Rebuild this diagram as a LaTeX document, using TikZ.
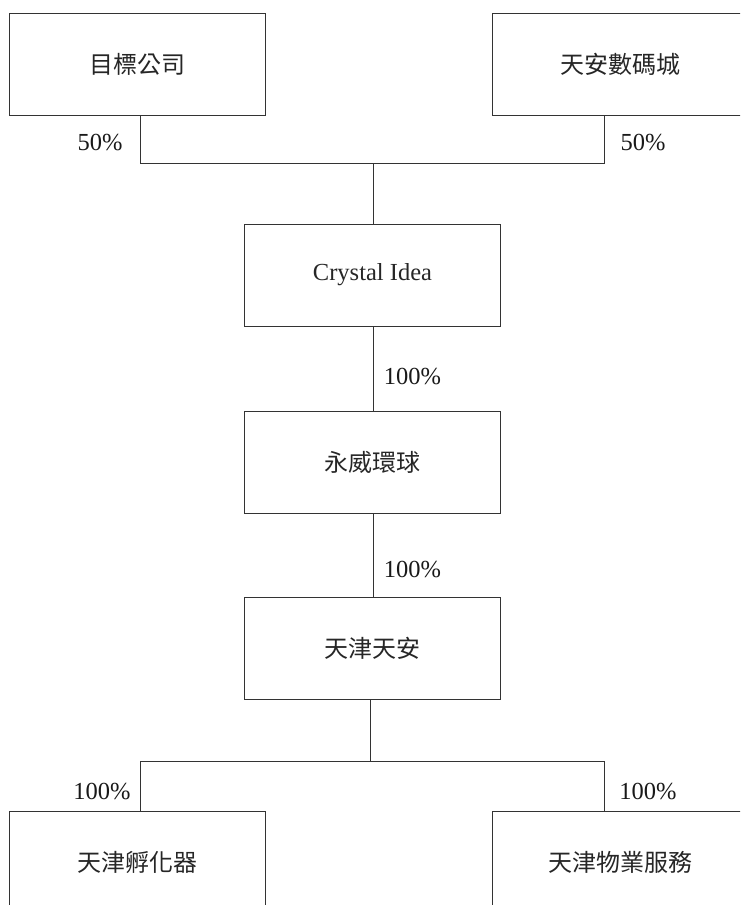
\documentclass[tikz,border=0pt]{standalone}
\usepackage{fontspec}
\setmainfont{Liberation Serif}
\newfontfamily\cjk{Noto Sans CJK TC}
\begin{document}
\begin{tikzpicture}[x=1pt,y=-1pt,
  box/.style={draw=black!80,line width=0.9pt,minimum width=256pt,minimum height=102pt,inner sep=0pt,text=black!85,font=\fontsize{24}{29}\selectfont\cjk},
  ebox/.style={box,font=\fontsize{24.5}{29}\selectfont},
  pct/.style={inner sep=0pt,font=\fontsize{24.5}{29}\selectfont,text=black!90},
  conn/.style={draw=black!80,line width=0.9pt}]
\useasboundingbox (0,0) rectangle (740,905);
\clip (0,0) rectangle (740,905);
\node[box] (A) at (137,64) {目標公司};
\node[box] (B) at (620,64) {天安數碼城};
\node[ebox] (C) at (372.5,275) {Crystal Idea};
\node[box] (D) at (372.5,462.5) {永威環球};
\node[box] (E) at (372.5,648.5) {天津天安};
\node[box] (F) at (137,862) {天津孵化器};
\node[box] (G) at (620,862) {天津物業服務};
\coordinate (tl) at (140,163);
\coordinate (tr) at (604,163);
\coordinate (tm) at (373,163);
\coordinate (bl) at (140,761);
\coordinate (br) at (604,761);
\coordinate (bm) at (370,761);
\draw[conn] (A.south -| tl) -- (tl) -- (tr) -- (B.south -| tr);
\draw[conn] (tm) -- (C.north -| tm);
\draw[conn] (C.south -| tm) -- (D.north -| tm);
\draw[conn] (D.south -| tm) -- (E.north -| tm);
\draw[conn] (E.south -| bm) -- (bm);
\draw[conn] (F.north -| bl) -- (bl) -- (br) -- (G.north -| br);
\node[pct] (p1) at (100,143) {50\%};
\node[pct] (p2) at (643,143) {50\%};
\node[pct] (p3) at (412.5,377) {100\%};
\node[pct] (p4) at (412.5,570) {100\%};
\node[pct] (p5) at (102,792) {100\%};
\node[pct] (p6) at (648,792) {100\%};
\end{tikzpicture}
\end{document}
